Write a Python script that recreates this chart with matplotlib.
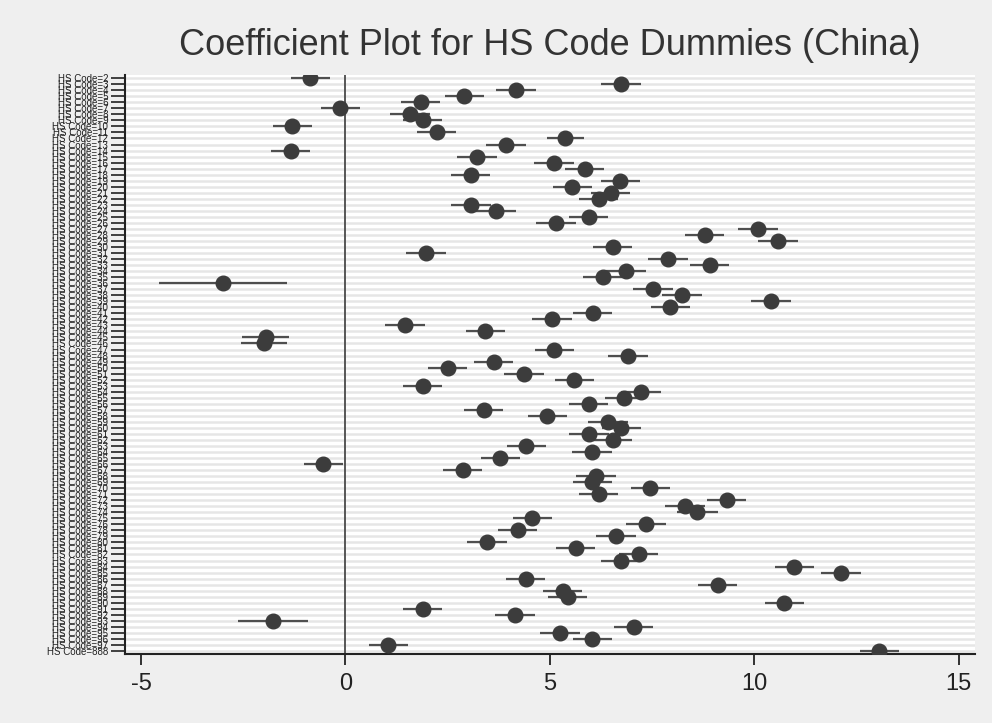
import numpy as np
import matplotlib
matplotlib.use("Agg")
import matplotlib.pyplot as plt

plt.rcParams['font.family'] = ['Liberation Sans', 'DejaVu Sans']
plt.rcParams['axes.unicode_minus'] = False

# HS chapters (77 is reserved, 888 = other)
hs_codes = [2, 3, 4, 5, 6, 7, 8, 9, 10, 11, 12, 13,
            14, 15, 16, 17, 18, 19, 20, 21, 22, 23, 24, 25,
            26, 27, 28, 29, 30, 31, 32, 33, 34, 35, 36, 37,
            38, 39, 40, 41, 42, 43, 44, 45, 46, 47, 48, 49,
            50, 51, 52, 53, 54, 55, 56, 57, 58, 59, 60, 61,
            62, 63, 64, 65, 66, 67, 68, 69, 70, 71, 72, 73,
            74, 75, 76, 78, 79, 80, 81, 82, 83, 84, 85, 86,
            87, 88, 89, 90, 91, 92, 93, 94, 95, 96, 97, 888]

coefs = [-0.86, 6.74, 4.17, 2.91, 1.84, -0.12, 1.58, 1.89, -1.30, 2.23, 5.38, 3.93,
         -1.34, 3.22, 5.10, 5.85, 3.06, 6.72, 5.55, 6.49, 6.19, 3.07, 3.68, 5.95,
         5.15, 10.09, 8.79, 10.58, 6.54, 1.97, 7.89, 8.91, 6.86, 6.29, -2.99, 7.52,
         8.23, 10.41, 7.95, 6.05, 5.05, 1.46, 3.42, -1.95, -1.99, 5.11, 6.91, 3.63,
         2.50, 4.37, 5.60, 1.89, 7.23, 6.82, 5.95, 3.38, 4.94, 6.42, 6.75, 5.96,
         6.54, 4.42, 6.03, 3.79, -0.54, 2.87, 6.13, 6.04, 7.46, 6.19, 9.32, 8.30,
         8.61, 4.57, 7.35, 4.21, 6.62, 3.46, 5.63, 7.17, 6.73, 10.98, 12.12, 4.41,
         9.10, 5.31, 5.44, 10.73, 1.89, 4.15, -1.77, 7.05, 5.25, 6.04, 1.05, 13.06]

# 95% CI half widths
ci_half = [0.48, 0.48, 0.48, 0.48, 0.48, 0.48, 0.48, 0.48, 0.48, 0.48, 0.46, 0.48,
           0.48, 0.48, 0.48, 0.48, 0.48, 0.48, 0.48, 0.48, 0.48, 0.48, 0.48, 0.48,
           0.48, 0.48, 0.48, 0.48, 0.48, 0.48, 0.48, 0.48, 0.48, 0.48, 1.57, 0.48,
           0.48, 0.48, 0.48, 0.48, 0.48, 0.48, 0.48, 0.57, 0.57, 0.48, 0.48, 0.48,
           0.48, 0.48, 0.48, 0.48, 0.48, 0.48, 0.48, 0.48, 0.48, 0.48, 0.48, 0.48,
           0.48, 0.48, 0.48, 0.48, 0.48, 0.48, 0.48, 0.48, 0.48, 0.48, 0.48, 0.49,
           0.49, 0.48, 0.48, 0.48, 0.48, 0.48, 0.48, 0.48, 0.48, 0.48, 0.48, 0.48,
           0.48, 0.48, 0.48, 0.48, 0.48, 0.48, 0.86, 0.48, 0.48, 0.48, 0.48, 0.48]

labels = ['HS Code=%d' % c for c in hs_codes]
ypos = np.arange(1, len(hs_codes) + 1)

fig = plt.figure(figsize=(9.92, 7.23), dpi=100, facecolor='#efefef')
ax = fig.add_axes([0.126, 0.0955, 0.857, 0.8005])
ax.set_facecolor('white')

ax.axvline(0, color='#4a4a4a', lw=1.3, zorder=1.5)
ax.errorbar(coefs, ypos, xerr=ci_half, fmt='o', color='#3c3c3c', ecolor='#4f4f4f',
            elinewidth=1.6, capsize=0, markersize=10.5, zorder=3)

ax.set_yticks(ypos)
ax.set_yticklabels(labels, fontsize=7, color='#333333')
ax.yaxis.grid(True, color='#e6e6e6', lw=1.8)
ax.set_axisbelow(True)
ax.set_ylim(96.5, 0.5)
ax.set_xlim(-5.39, 15.4)
ax.set_xticks([-5, 0, 5, 10, 15])
ax.tick_params(axis='x', labelsize=17, length=8, width=1.3, colors='#222222', pad=6)
ax.tick_params(axis='y', length=10, width=1.2, colors='#222222', pad=2)

for s in ['top', 'right']:
    ax.spines[s].set_visible(False)
for s in ['left', 'bottom']:
    ax.spines[s].set_linewidth(1.5)
    ax.spines[s].set_color('#222222')

fig.text(0.554, 0.937, 'Coefficient Plot for HS Code Dummies (China)',
         ha='center', va='center', fontsize=26, color='#333333')

fig.savefig('out.png', dpi=100, facecolor=fig.get_facecolor())
